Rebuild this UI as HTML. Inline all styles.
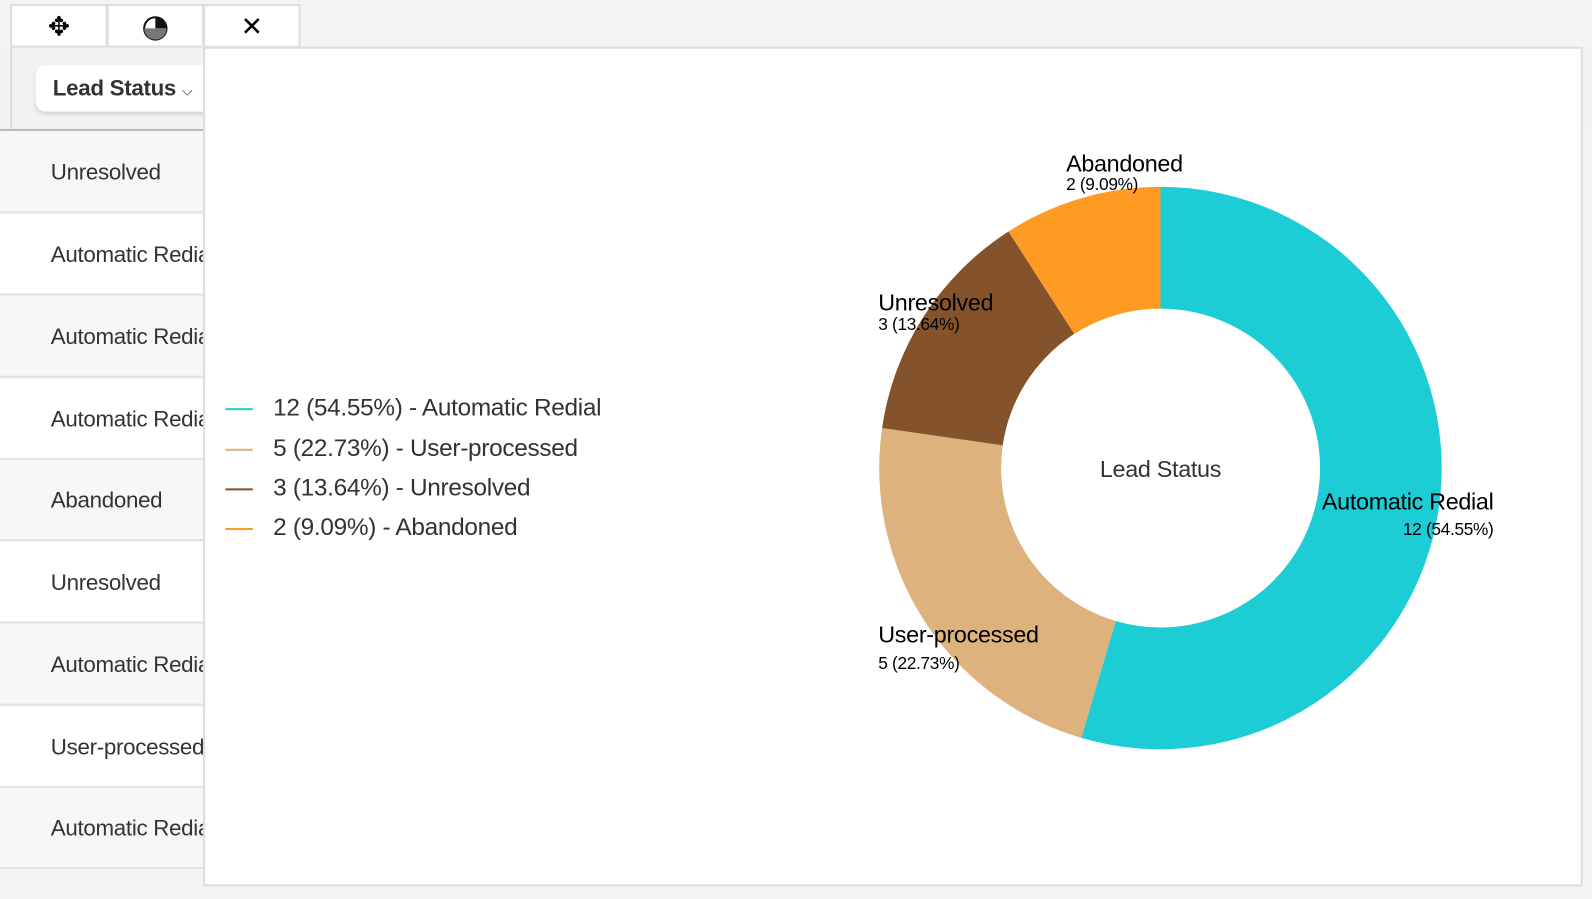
<!DOCTYPE html>
<html><head><style>
body{margin:0;width:1592px;height:898px;background:#f4f4f4;font-family:"Liberation Sans",sans-serif;overflow:hidden}
#w{position:absolute;left:0;top:0;width:1568px;height:885px;transform:scale(1.0153);transform-origin:0 0}
.a{position:absolute}
.row{position:absolute;left:0;width:201px;height:80px;border-bottom:2px solid #e2e2e2;font-size:22px;color:#333;line-height:80px;padding-left:50px;box-sizing:border-box;white-space:nowrap;overflow:hidden;letter-spacing:-0.3px}
.btn{position:absolute;top:4px;height:43px;width:96px;background:#fff;border:2px solid #ddd;box-sizing:border-box;text-align:center;line-height:40px;font-size:26px}
.lg{position:absolute;left:222px;font-size:24px;color:#333;letter-spacing:-0.3px}
.lg i{display:inline-block;width:27px;height:2px;vertical-align:middle;margin-right:20px}
</style></head><body><div id="w">
<div class="a" style="left:0;top:47px;width:1568px;height:80px;background:#f2f2f2"></div>
<div class="a" style="left:10px;top:47px;width:2px;height:80px;background:#ddd"></div>
<div class="a" style="left:35px;top:64px;width:180px;height:46px;background:#fff;border-radius:10px;box-shadow:0 2px 4px rgba(0,0,0,.15);font-weight:bold;font-size:22px;color:#333;line-height:46px;padding-left:17px;box-sizing:border-box;letter-spacing:-0.3px">Lead Status <span style="font-weight:normal;font-size:14px">⌵</span></div>
<div class="a" style="left:0;top:127px;width:201px;height:3px;border-top:2px solid #bbb"></div>
<div class="row" style="top:130px;background:#f7f7f7">Unresolved</div>
<div class="row" style="top:211px;background:#fff">Automatic Redial</div>
<div class="row" style="top:292px;background:#f7f7f7">Automatic Redial</div>
<div class="row" style="top:373px;background:#fff">Automatic Redial</div>
<div class="row" style="top:453px;background:#f7f7f7">Abandoned</div>
<div class="row" style="top:534px;background:#fff">Unresolved</div>
<div class="row" style="top:615px;background:#f7f7f7">Automatic Redial</div>
<div class="row" style="top:696px;background:#fff">User-processed</div>
<div class="row" style="top:776px;background:#f7f7f7">Automatic Redial</div>
<div class="btn" style="left:10px">✥</div>
<div class="btn" style="left:105px"><svg width="26" height="26" viewBox="0 0 26 26" style="vertical-align:middle"><circle cx="13" cy="13" r="11" fill="#fff" stroke="#111" stroke-width="2"/><path d="M13 13V2A11 11 0 0 1 24 13Z" fill="#111"/><path d="M13 13H24A11 11 0 0 1 2 13Z" fill="#777"/></svg></div>
<div class="btn" style="left:200px">✕</div>
<div class="a" style="left:200px;top:46px;width:1359px;height:827px;background:#fff;border:2px solid #ddd;box-sizing:border-box"></div>
<div class="lg" style="top:388px"><i style="background:#1ccdd6"></i>12 (54.55%) - Automatic Redial</div>
<div class="lg" style="top:428px"><i style="background:#deb27c"></i>5 (22.73%) - User-processed</div>
<div class="lg" style="top:467px"><i style="background:#85532b"></i>3 (13.64%) - Unresolved</div>
<div class="lg" style="top:506px"><i style="background:#ff9a22"></i>2 (9.09%) - Abandoned</div>
<svg class="a" style="left:0;top:0" width="1568" height="885">
<path d="M1143 184 A277 277 0 1 1 1065 726.8 L1098.8 611.6 A157 157 0 1 0 1143 304Z" fill="#1ccdd6"/>
<path d="M1065 726.8 A277 277 0 0 1 868.8 421.6 L987.6 438.7 A157 157 0 0 0 1098.8 611.6Z" fill="#deb27c"/>
<path d="M868.8 421.6 A277 277 0 0 1 993.3 228 L1058.1 328.9 A157 157 0 0 0 987.6 438.7Z" fill="#85532b"/>
<path d="M993.3 228 A277 277 0 0 1 1143 184 L1143 304 A157 157 0 0 0 1058.1 328.9Z" fill="#ff9a22"/>
<g font-family="Liberation Sans,sans-serif" fill="#000" letter-spacing="-0.3">
<text x="1143" y="470" font-size="23" text-anchor="middle" fill="#333">Lead Status</text>
<text x="1050" y="169" font-size="23">Abandoned</text><text x="1050" y="187" font-size="17">2 (9.09%)</text>
<text x="865" y="306" font-size="23">Unresolved</text><text x="865" y="325" font-size="17">3 (13.64%)</text>
<text x="1471" y="502" font-size="23" text-anchor="end">Automatic Redial</text><text x="1471" y="527" font-size="17" text-anchor="end">12 (54.55%)</text>
<text x="865" y="633" font-size="23">User-processed</text><text x="865" y="659" font-size="17">5 (22.73%)</text>
</g></svg>
</div></body></html>
